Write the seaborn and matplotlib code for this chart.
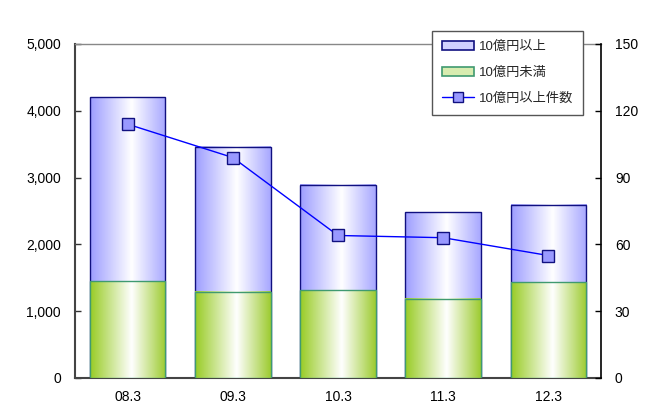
import matplotlib
matplotlib.use('Agg')
import matplotlib.pyplot as plt
from matplotlib.patches import Patch
from matplotlib.lines import Line2D
import numpy as np
import pandas as pd
import seaborn as sns

periods = ["08.3", "09.3", "10.3", "11.3", "12.3"]
total = [4200, 3460, 2890, 2480, 2590]        # 10億円以上 + 10億円未満
under_10 = [1450, 1290, 1310, 1190, 1430]     # 10億円未満
count_over_10 = [114, 99, 64, 63, 55]         # 10億円以上件数

sns.set_theme(style='white')
plt.rcParams['font.family'] = ['Liberation Sans', 'Noto Sans CJK JP', 'DejaVu Sans']

df = pd.DataFrame({'period': periods, 'total': total, 'under': under_10, 'count': count_over_10})

fig = plt.figure(figsize=(6.59, 4.11), dpi=100)
ax = fig.add_axes([0.1138, 0.0803, 0.7982, 0.8127])

# stacked bars: full height first, then lower part on top of it
sns.barplot(data=df, x='period', y='total', color='#a8a8ff', width=0.72,
            edgecolor='#101080', linewidth=1.0, ax=ax, zorder=2)
sns.barplot(data=df, x='period', y='under', color='#b0d860', width=0.72,
            edgecolor='#3f9a70', linewidth=1.0, ax=ax, zorder=3)

# horizontal gradient fill inside each bar
blue_grad = np.array([[0.62, 0.62, 1.0], [1.0, 1.0, 1.0], [0.66, 0.66, 1.0]])
green_grad = np.array([[0.60, 0.80, 0.15], [1.0, 1.0, 1.0], [0.62, 0.80, 0.20]])

def grad_image(stops, n=64):
    t = np.linspace(0, 1, n)
    pos = [0.0, 0.55, 1.0]
    rgb = np.stack([np.interp(t, pos, stops[:, c]) for c in range(3)], axis=-1)
    return rgb[np.newaxis, :, :]

n = len(periods)
for i, p in enumerate(ax.patches):
    stops = blue_grad if i < n else green_grad
    x0, y0 = p.get_x(), p.get_y()
    w, h = p.get_width(), p.get_height()
    ax.imshow(grad_image(stops), extent=[x0, x0 + w, y0, y0 + h],
              aspect='auto', zorder=2.0 if i < n else 2.6,
              interpolation='bilinear')
    p.set_facecolor('none')
    p.set_zorder(2.1 if i < n else 2.7)

ax.set_xlim(-0.5, n - 0.5)
ax.set_ylim(0, 5000)
ax.set_yticks([0, 1000, 2000, 3000, 4000, 5000])
ax.set_yticklabels(['0', '1,000', '2,000', '3,000', '4,000', '5,000'])
ax.set_xticks(range(n))
ax.set_xticklabels(periods)
ax.set_xticks(np.arange(0.5, n - 1, 1.0), minor=True)
ax.set_xlabel('')
ax.set_ylabel('')
ax.tick_params(axis='x', which='major', length=0, pad=9, labelsize=10, colors='black')
ax.tick_params(axis='x', which='minor', direction='in', length=4, width=1, color='#333333')
ax.tick_params(axis='y', direction='in', length=4, width=1, color='#333333',
               pad=10, labelsize=10, labelcolor='black', left=True)

for side in ['left', 'bottom']:
    ax.spines[side].set_color('#444444')
    ax.spines[side].set_linewidth(1.5)
ax.spines['top'].set_color('#888888')
ax.spines['top'].set_linewidth(1.0)
ax.spines['right'].set_visible(False)

ax2 = ax.twinx()
sns.lineplot(data=df, x='period', y='count', color='#0000ff', linewidth=1.0,
             marker='s', markersize=8, markerfacecolor='#9999ff',
             markeredgecolor='#101080', markeredgewidth=1.0, ax=ax2, zorder=5)
ax2.set_ylim(0, 150)
ax2.set_yticks([0, 30, 60, 90, 120, 150])
ax2.set_ylabel('')
ax2.set_xlim(-0.5, n - 0.5)
ax2.tick_params(axis='y', direction='in', length=4, width=1, color='black',
                pad=10, labelsize=10, labelcolor='black', right=True)
for side in ['left', 'top', 'bottom']:
    ax2.spines[side].set_visible(False)
ax2.spines['right'].set_color('black')
ax2.spines['right'].set_linewidth(1.2)

handles = [
    Patch(facecolor='#d0d0ff', edgecolor='#101080', linewidth=1.2),
    Patch(facecolor='#d8ecb0', edgecolor='#3f9a70', linewidth=1.2),
    Line2D([0], [0], color='#0000ff', linewidth=1.0, marker='s', markersize=7,
           markerfacecolor='#9999ff', markeredgecolor='#101080'),
]
labels = ['10億円以上', '10億円未満', '10億円以上件数']
leg = ax2.legend(handles, labels, loc='upper right', bbox_to_anchor=(0.966, 1.04),
                 fontsize=9.5, frameon=True, fancybox=False, edgecolor='#555555',
                 framealpha=1, labelspacing=1.05, handlelength=2.4, handleheight=0.7,
                 handletextpad=0.4, borderpad=0.75, borderaxespad=0)
leg.get_frame().set_linewidth(1.0)
leg.set_zorder(10)

fig.savefig('out.png', dpi=100)
